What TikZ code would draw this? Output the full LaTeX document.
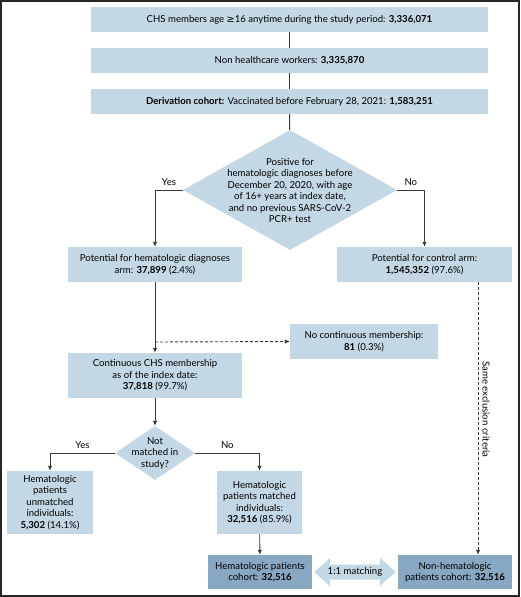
\documentclass[tikz,border=0pt]{standalone}
\usepackage{fontspec}
\setmainfont{Lato}
\newfontfamily\symfont{DejaVu Sans}
\usetikzlibrary{shapes.geometric,arrows.meta,calc}
\definecolor{boxblue}{RGB}{196,215,229}
\definecolor{darkblue}{RGB}{136,167,195}
\definecolor{linegray}{RGB}{55,55,55}
\begin{document}
\begin{tikzpicture}[x=1pt, y=-1pt, font=\fontsize{9.6}{11.4}\selectfont,
		box_style/.style={rectangle,fill=boxblue,align=center,inner sep=2pt},
		cohort_style/.style={rectangle,fill=darkblue,align=center,inner sep=2pt},
		dec_style/.style={diamond,fill=boxblue,inner sep=0pt},
		edge_style/.style={draw=linegray,line width=0.9pt},
		arrow_style/.style={edge_style,-{Latex[length=5pt,width=4.5pt]}},
		dash_style/.style={arrow_style,dashed,dash pattern=on 3pt off 2pt}]

		\useasboundingbox (0,0) rectangle (520,597);
		\draw[draw=black!85,line width=2pt] (1,1) rectangle (519,596);

		\node[box_style,minimum width=397,minimum height=25] (n1) at (289.5,19.5) {CHS members age {\symfont≥}16 anytime during the study period: \textbf{3,336,071}};
		\node[box_style,minimum width=397,minimum height=25] (n2) at (289.5,60.5) {Non healthcare workers: \textbf{3,335,870}};
		\node[box_style,minimum width=397,minimum height=25] (n3) at (289.5,101.5) {\textbf{Derivation cohort:} Vaccinated before February 28, 2021: \textbf{1,583,251}};

		\node[dec_style,minimum width=214,minimum height=120] (d1) at (290,190) {};
		\node[align=center,inner sep=0pt] (d1_text) at (290,190.5) {Positive for\\hematologic diagnoses before\\December 20, 2020, with age\\of 16+ years at index date,\\and no previous SARS-CoV-2\\PCR+ test};

		\node[box_style,minimum width=174,minimum height=35] (n4) at (155,264.5) {Potential for hematologic diagnoses\\arm: \textbf{37,899} (2.4\%)};
		\node[box_style,minimum width=175,minimum height=35] (n5) at (424.5,264.5) {Potential for control arm:\\\textbf{1,545,352} (97.6\%)};
		\node[box_style,minimum width=148,minimum height=35] (n7) at (364,341.5) {No continuous membership:\\\textbf{81} (0.3\%)};
		\node[box_style,minimum width=174,minimum height=45] (n6) at (155,375.5) {Continuous CHS membership\\as of the index date:\\\textbf{37,818} (99.7\%)};

		\node[dec_style,minimum width=80,minimum height=54] (d2) at (155,453) {};
		\node[align=center,inner sep=0pt] (d2_text) at (155,453) {Not\\matched in\\study?};

		\node[box_style,minimum width=86,minimum height=63] (n8) at (50,502.5) {Hematologic\\patients\\unmatched\\individuals:\\\textbf{5,302} (14.1\%)};
		\node[box_style,minimum width=85,minimum height=63] (n9) at (259.5,502.5) {Hematologic\\patients matched\\individuals:\\\textbf{32,516} (85.9\%)};
		\node[cohort_style,minimum width=104,minimum height=34] (n10) at (260,572) {Hematologic patients\\cohort: \textbf{32,516}};
		\node[cohort_style,minimum width=114,minimum height=34] (n11) at (455,572) {Non-hematologic\\patients cohort: \textbf{32,516}};

		\coordinate (c1) at (155,342);
		\coordinate (c2) at (478,300);

		\draw[edge_style] (n1) -- (n2);
		\draw[edge_style] (n2) -- (n3);
		\draw[edge_style] (n3) -- (d1);
		\draw[arrow_style] (d1.west) -| node[pos=0.25,above,yshift=1pt]{Yes} (n4.north);
		\draw[arrow_style] (d1.east) -| node[pos=0.25,above,yshift=1pt]{No} (n5.north);
		\draw[arrow_style] (n4) -- (n6);
		\draw[dash_style] (c1) -- (n7.west);
		\draw[arrow_style] (n6) -- (d2);
		\draw[arrow_style] (d2.west) -| node[pos=0.25,above,yshift=1pt]{Yes} (n8.north);
		\draw[arrow_style] (d2.east) -| node[pos=0.25,above,yshift=1pt]{No} (n9.north);
		\draw[arrow_style] (n9) -- (n10);
		\draw[dash_style] (n5.south -| c2) -- node[pos=0.467,anchor=south,rotate=-90,inner sep=4pt]{Same exclusion criteria} (n11.north -| c2);

		% double arrow for the matching
		\fill[boxblue] ([xshift=2]n10.east) -- ++(16,-14) -- ++(0,6.5) -- ++(50,0) -- ++(0,-6.5)
			-- ([xshift=-2]n11.west) -- ++(-16,14) -- ++(0,-6.5) -- ++(-50,0) -- ++(0,6.5) -- cycle;
		\node (m1) at ($(n10.east)!0.5!(n11.west)$) {1:1 matching};
\end{tikzpicture}
\end{document}
